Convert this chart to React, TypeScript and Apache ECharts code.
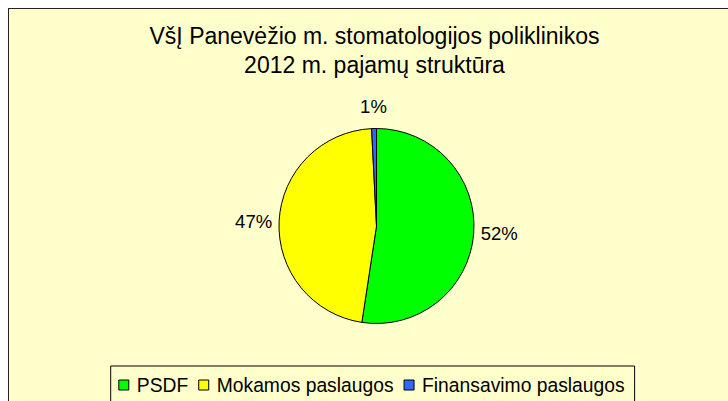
import React, { useEffect, useRef } from "react";
import * as echarts from "echarts";

const TITLE_LINES = ["VšĮ Panevėžio m. stomatologijos poliklinikos", "2012 m. pajamų struktūra"];
const CATEGORIES = ["PSDF", "Mokamos paslaugos", "Finansavimo paslaugos"];
const VALUES = [52.4, 46.8, 0.8];
const COLORS = ["#00FF00", "#FFFF00", "#3366FF"];
const LABEL_LINE_LEN = [0, 0, 22];

const FONT = "'Liberation Sans', Arial, sans-serif";

export default function App() {
  const ref = useRef<HTMLDivElement>(null);
  useEffect(() => {
    if (!ref.current) return;
    const chart = echarts.init(ref.current, undefined, { renderer: "svg" });
    chart.setOption({
      animation: false,
      backgroundColor: "#FFFFCC",
      title: {
        text: TITLE_LINES.join("\n"),
        left: 365.5,
        top: 12,
        textAlign: "center",
        padding: 0,
        textStyle: {
          fontFamily: FONT,
          fontSize: 23,
          fontWeight: "normal",
          color: "#000",
          lineHeight: 29,
        },
      },
      legend: {
        data: CATEGORIES,
        left: 101.7,
        top: 357,
        orient: "horizontal",
        icon: "rect",
        itemWidth: 10,
        itemHeight: 10,
        itemGap: 10,
        borderColor: "#000",
        borderWidth: 1,
        padding: [3, 10, 40, 7.6],
        itemStyle: { borderColor: "#000", borderWidth: 1 },
        textStyle: {
          fontFamily: FONT,
          fontSize: 19.3,
          color: "#000",
          lineHeight: 20,
          padding: [0, 0, 12, 3],
        },
      },
      series: [
        {
          type: "pie",
          center: [367.5, 217],
          radius: 97.5,
          startAngle: 90,
          clockwise: true,
          avoidLabelOverlap: false,
          itemStyle: { borderColor: "#000", borderWidth: 1 },
          label: {
            show: true,
            position: "outside",
            formatter: (p: any) => Math.round(p.percent) + "%",
            fontFamily: FONT,
            fontSize: 18.5,
            color: "#000",
          },
          labelLine: { show: false, length: 0, length2: 2 },
          labelLayout: (params: any) =>
            params.dataIndex === 2 ? { align: "center", dx: 7 } : {},
          emphasis: { disabled: true },
          data: CATEGORIES.map((name, i) => ({
            name,
            value: VALUES[i],
            itemStyle: { color: COLORS[i] },
            labelLine: { show: false, length: LABEL_LINE_LEN[i], length2: 2 },
          })),
        },
      ],
    });
    return () => chart.dispose();
  }, []);
  return (
    <div
      style={{
        position: "fixed",
        left: 8,
        top: 8,
        width: 720,
        height: 393,
        boxSizing: "border-box",
        borderTop: "1px solid #222",
        borderLeft: "1px solid #222",
        background: "#FFFFCC",
      }}
    >
      <div ref={ref} style={{ width: 719, height: 392 }} />
    </div>
  );
}
